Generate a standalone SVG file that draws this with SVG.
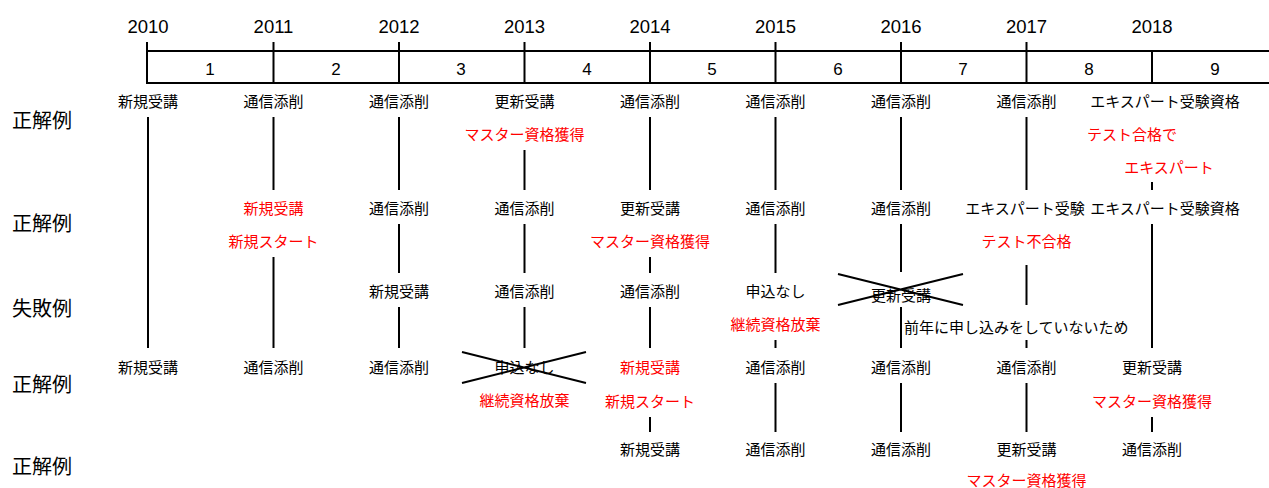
<svg xmlns="http://www.w3.org/2000/svg" width="1269" height="488" viewBox="0 0 1269 488">
<style>
text{font-family:"Noto Sans CJK JP","Liberation Sans",sans-serif;}
.yr{font-family:"Liberation Sans",sans-serif;font-size:18.5px;text-anchor:middle;fill:#000;}
.num{font-family:"Liberation Sans",sans-serif;font-size:17px;text-anchor:middle;fill:#000;}
.lbl{font-size:20px;fill:#000;}
.t{font-size:15px;text-anchor:middle;fill:#000;}
.r{font-size:15px;text-anchor:middle;fill:#f00;}
.s{text-anchor:start;}
.ln{stroke:#000;stroke-width:2;fill:none;}
</style>
<rect width="1269" height="488" fill="#fff"/>
<g id="header">
<text class="yr" x="148" y="33">2010</text>
<text class="yr" x="273.5" y="33">2011</text>
<text class="yr" x="399" y="33">2012</text>
<text class="yr" x="524.5" y="33">2013</text>
<text class="yr" x="650" y="33">2014</text>
<text class="yr" x="775.5" y="33">2015</text>
<text class="yr" x="901" y="33">2016</text>
<text class="yr" x="1026.5" y="33">2017</text>
<text class="yr" x="1152" y="33">2018</text>
<path class="ln" d="M147,51H1269M147,83H1269M147,42V84M273.5,42V84M399,42V84M524.5,42V84M650,42V84M775.5,42V84M901,42V84M1026.5,42V84M1152,51V84"/>
<text class="num" x="210" y="75">1</text>
<text class="num" x="336" y="75">2</text>
<text class="num" x="461" y="75">3</text>
<text class="num" x="587" y="75">4</text>
<text class="num" x="712" y="75">5</text>
<text class="num" x="838" y="75">6</text>
<text class="num" x="963" y="75">7</text>
<text class="num" x="1089" y="75">8</text>
<text class="num" x="1215" y="75">9</text>
</g>
<g id="row-labels">
<text class="lbl" x="12" y="127.5">正解例</text>
<text class="lbl" x="12" y="230.5">正解例</text>
<text class="lbl" x="12" y="315.5">失敗例</text>
<text class="lbl" x="12" y="391.5">正解例</text>
<text class="lbl" x="12" y="473.5">正解例</text>
</g>
<g id="connectors">
<path class="ln" d="M148,117V348"/>
<path class="ln" d="M273.5,117V190M273.5,257V348"/>
<path class="ln" d="M399,117V190M399,224V273M399,307V348"/>
<path class="ln" d="M524.5,150V190M524.5,224V273M524.5,307V348"/>
<path class="ln" d="M650,117V190M650,257V273M650,307V348M650,417V432"/>
<path class="ln" d="M775.5,117V190M775.5,224V273M775.5,340V348M775.5,383V432"/>
<path class="ln" d="M901,117V190M901,224V272M901,307V348M901,383V432"/>
<path class="ln" d="M1026.5,117V190M1026.5,265V305M1026.5,340V348M1026.5,383V432"/>
<path class="ln" d="M1152,182V190M1152,224V348M1152,417V432"/>
<path class="ln" d="M462,352L586,383M462,383L586,352"/>
<path class="ln" d="M838,274L963,305M838,305L963,274"/>
</g>
<g id="n2010"><text class="t" x="148" y="107">新規受講</text><text class="t" x="148" y="373">新規受講</text></g>
<g id="n2011"><text class="t" x="273.5" y="107">通信添削</text><text class="r" x="273.5" y="214">新規受講</text><text class="r" x="273.5" y="247">新規スタート</text><text class="t" x="273.5" y="373">通信添削</text></g>
<g id="n2012"><text class="t" x="399" y="107">通信添削</text><text class="t" x="399" y="214">通信添削</text><text class="t" x="399" y="297">新規受講</text><text class="t" x="399" y="373">通信添削</text></g>
<g id="n2013"><text class="t" x="524.5" y="107">更新受講</text><text class="r" x="524.5" y="140">マスター資格獲得</text><text class="t" x="524.5" y="214">通信添削</text><text class="t" x="524.5" y="297">通信添削</text><text class="t" x="524.5" y="373">申込なし</text><text class="r" x="524.5" y="406">継続資格放棄</text></g>
<g id="n2014"><text class="t" x="650" y="107">通信添削</text><text class="t" x="650" y="214">更新受講</text><text class="r" x="650" y="247">マスター資格獲得</text><text class="t" x="650" y="297">通信添削</text><text class="r" x="650" y="373">新規受講</text><text class="r" x="650" y="407">新規スタート</text><text class="t" x="650" y="455">新規受講</text></g>
<g id="n2015"><text class="t" x="775.5" y="107">通信添削</text><text class="t" x="775.5" y="214">通信添削</text><text class="t" x="775.5" y="297">申込なし</text><text class="r" x="775.5" y="330">継続資格放棄</text><text class="t" x="775.5" y="373">通信添削</text><text class="t" x="775.5" y="455">通信添削</text></g>
<g id="n2016"><text class="t" x="901" y="107">通信添削</text><text class="t" x="901" y="214">通信添削</text><text class="t" x="901" y="301">更新受講</text><text class="t s" x="904" y="333">前年に申し込みをしていないため</text><text class="t" x="901" y="373">通信添削</text><text class="t" x="901" y="455">通信添削</text></g>
<g id="n2017"><text class="t" x="1026.5" y="107">通信添削</text><text class="t" x="1025" y="214">エキスパート受験</text><text class="r" x="1026.5" y="247">テスト不合格</text><text class="t" x="1026.5" y="373">通信添削</text><text class="t" x="1026.5" y="455">更新受講</text><text class="r" x="1026.5" y="485.5">マスター資格獲得</text></g>
<g id="n2018"><text class="t" x="1165" y="107">エキスパート受験資格</text><text class="r" x="1132" y="140">テスト合格で</text><text class="r" x="1169" y="173">エキスパート</text><text class="t" x="1165" y="214">エキスパート受験資格</text><text class="t" x="1152" y="373">更新受講</text><text class="r" x="1152" y="407">マスター資格獲得</text><text class="t" x="1152" y="455">通信添削</text></g>
</svg>
